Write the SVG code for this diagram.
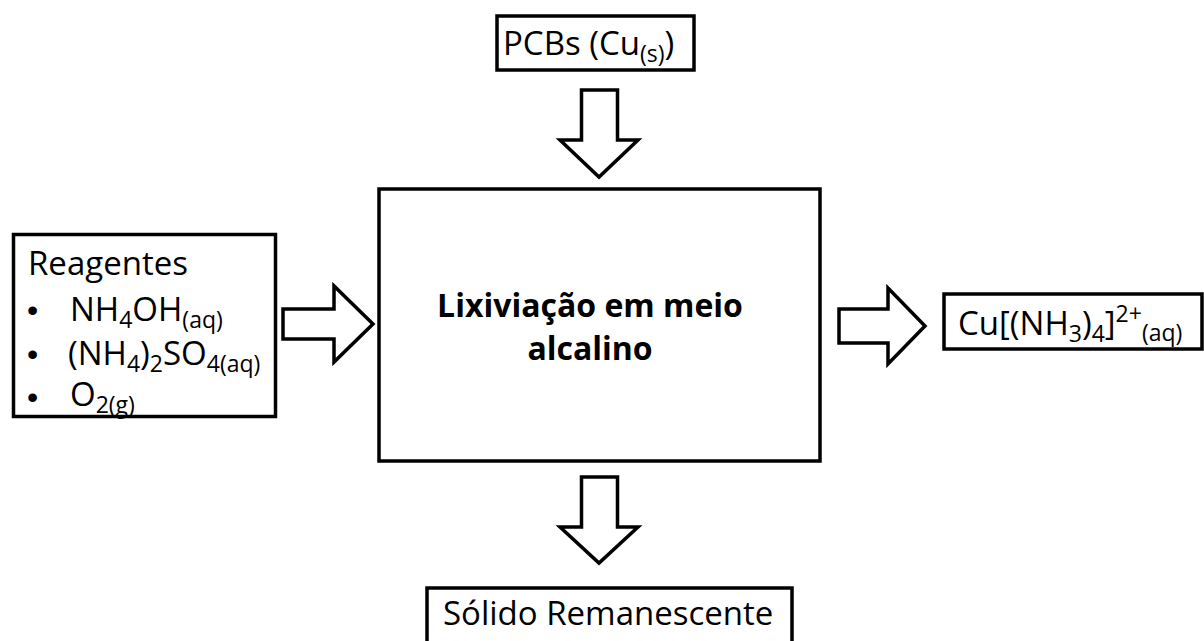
<svg xmlns="http://www.w3.org/2000/svg" width="1204" height="641" viewBox="0 0 1204 641">
<style>
.box{fill:#fff;stroke:#000;stroke-width:3.5}
.arr{fill:#fff;stroke:#000;stroke-width:3.5;stroke-linejoin:miter}
text{font-family:"Open Sans","Liberation Sans",sans-serif;font-size:33px;fill:#000}
.b{font-weight:bold;font-size:32px}
.s{font-size:23px}
.bul{font-family:"Liberation Sans",sans-serif;font-size:32px}
</style>
<rect width="1204" height="641" fill="#fff"/>
<g id="connectors">
<polygon class="arr" points="581.5,90 617.5,90 617.5,140 638,140 599,177 560,140 581.5,140"/>
<polygon class="arr" points="581.5,477 617.5,477 617.5,527 638,527 599,563 560,527 581.5,527"/>
<polygon class="arr" points="283,309 334,309 334,286 373,324 334,362 334,339 283,339"/>
<polygon class="arr" points="839,309 888,309 888,288 925,326 888,364 888,343 839,343"/>
</g>
<g id="main">
<rect class="box" x="379" y="189" width="441" height="272"/>
<text class="b" x="590" y="317" text-anchor="middle">Lixiviação em meio</text>
<text class="b" x="590" y="360" text-anchor="middle">alcalino</text>
</g>
<g id="pcbs">
<rect class="box" x="497" y="16" width="197" height="54"/>
<text x="503" y="55">PCBs (Cu<tspan class="s" dy="7">(s)</tspan><tspan dy="-7">)</tspan></text>
</g>
<g id="reagentes">
<rect class="box" x="13.5" y="234.5" width="262" height="182"/>
<text x="28" y="275">Reagentes</text>
<text class="bul" x="27" y="321">•</text>
<text class="bul" x="27" y="365">•</text>
<text class="bul" x="27" y="408">•</text>
<text x="70" y="321">NH<tspan class="s" dy="7">4</tspan><tspan dy="-7">OH</tspan><tspan class="s" dy="7">(aq)</tspan></text>
<text x="68" y="365">(NH<tspan class="s" dy="7">4</tspan><tspan dy="-7">)</tspan><tspan class="s" dy="7">2</tspan><tspan dy="-7">SO</tspan><tspan class="s" dy="7">4(aq)</tspan></text>
<text x="70" y="406">O<tspan class="s" dy="7">2(g)</tspan></text>
</g>
<g id="produto">
<rect class="box" x="944" y="294" width="258" height="55"/>
<text x="958" y="335">Cu[(NH<tspan class="s" dy="7">3</tspan><tspan dy="-7">)</tspan><tspan class="s" dy="7">4</tspan><tspan dy="-7">]</tspan><tspan class="s" dy="-13">2+</tspan><tspan class="s" dy="19">(aq)</tspan></text>
</g>
<g id="solido">
<rect class="box" x="427" y="588" width="365" height="70"/>
<text x="443" y="625">Sólido Remanescente</text>
</g>
</svg>
